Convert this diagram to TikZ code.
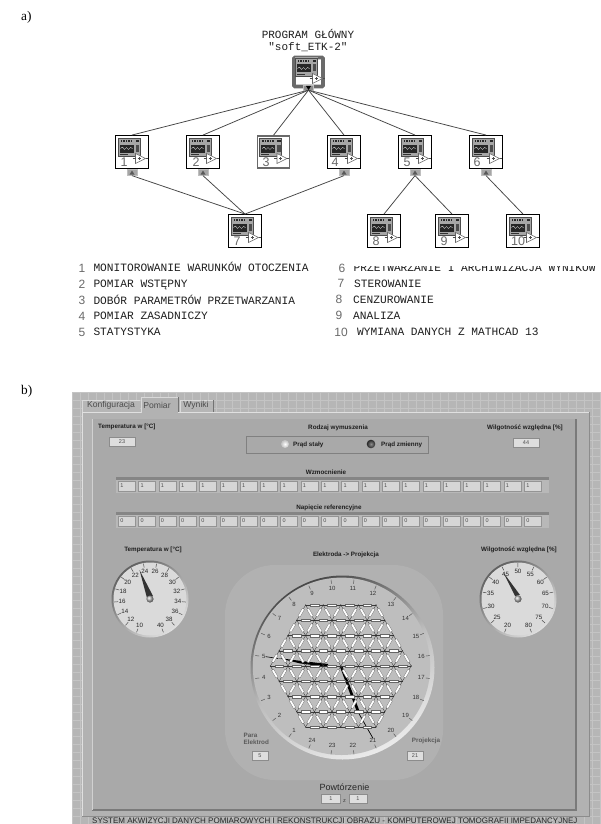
\documentclass[tikz,border=0pt]{standalone}
\usepackage{fontspec}
\setmainfont{Liberation Serif}
\setsansfont{Liberation Sans}
\setmonofont{Liberation Mono}
\usetikzlibrary{calc}
\definecolor{panelg}{HTML}{A9A9A9}
\definecolor{gridbg}{HTML}{B6B6B6}
\definecolor{gridln}{HTML}{C4C4C4}
\definecolor{bandg}{HTML}{B2B2B2}
\definecolor{backg}{HTML}{B1B1B1}
\definecolor{diskg}{HTML}{BEBEBE}
\definecolor{facel}{HTML}{DADADA}
\definecolor{wire}{HTML}{454545}
\definecolor{numg}{HTML}{6A6A6A}
\definecolor{txtk}{HTML}{1E1E1E}
\tikzset{
  iconbox/.style={draw=black,fill=white,line width=0.9,minimum size=33,inner sep=0},
  iconsub/.style={draw=numg,line width=1.5,fill=white,minimum size=32,inner sep=0},
  iconmain/.style={draw=numg,line width=3.6,fill=white,minimum size=29,inner sep=0,rounded corners=1},
  tabbox/.style={fill=black!35,draw=black!25,line width=0.3,minimum width=10,minimum height=6,inner sep=0},
  wireln/.style={draw=wire,line width=0.75},
  mono/.style={font=\ttfamily\fontsize{11.2}{12}\selectfont,text=txtk,inner sep=0,anchor=base west},
  listnum/.style={font=\sffamily\fontsize{12}{12}\selectfont,text=numg,inner sep=0,anchor=base},
  lvb/.style={font=\sffamily\bfseries\fontsize{6.3}{7}\selectfont,text=txtk,inner sep=0},
  lvs/.style={font=\sffamily\fontsize{5.6}{7}\selectfont,text=black!75,inner sep=0},
  valbox/.style={fill=black!13,draw=black!45,line width=0.5,inner sep=0,font=\sffamily\fontsize{5.5}{6}\selectfont,text=black!70},
  cellbox/.style={fill=black!16,draw=black!42,line width=0.35,inner sep=0},
  tabtxt/.style={font=\sffamily\fontsize{8.6}{10}\selectfont,text=black!70,inner sep=0},
  gnum/.style={font=\sffamily\fontsize{6.2}{7}\selectfont,text=black!85,inner sep=0},
  dnum/.style={font=\sffamily\fontsize{6}{7}\selectfont,text=black!80,inner sep=0},
}
% pictogram inside an icon: #1 #2 = top-left corner
\newcommand{\vipict}[2]{%
  \begin{scope}[shift={(#1,#2)}]
    \fill[black!35] (2,2) rectangle (25,21);
    \draw[black!70,line width=0.5] (2.5,2.5) rectangle (24.5,20.5);
    \fill[black!85] (4,9) rectangle (18,17);
    \draw[white,line width=0.3] (5,13) -- (7,11.5) -- (9,14) -- (11,12) -- (13,14) -- (15,12) -- (17,13);
    \foreach \d in {5,7.5,10,12.5,15}{\fill[black!85] (\d,4.5) rectangle +(1.5,1.8);}
    \fill[black!85] (20,4.5) rectangle (23.5,6.5);
    \fill[black!70] (20,9) rectangle (23.5,16);
    \draw[black!80,line width=0.4] (4,19) -- (12,19);
    \draw[black!60,line width=0.6,fill=white] (20,18) -- (30,23) -- (20,28) -- cycle;
    \draw[black!70,line width=0.5] (17,23) -- (20,23) (30,23) -- (32,23);
    \draw[black!70,line width=0.4] (22,23) -- (25,23) (23.5,21.5) -- (23.5,24.5);
  \end{scope}}
\newcommand{\vigauge}[1]{\begin{scope}[shift={(#1)}]
  \shade[top color=black!62,bottom color=black!12,shading angle=40] (0,0) circle (38.5);
  \fill[facel] (0,0) circle (36.5);
\end{scope}}
\begin{document}
\begin{tikzpicture}[x=1pt,y=-1pt]
\useasboundingbox (0,0) rectangle (601,824);
\clip (0,0) rectangle (601,824);
\fill[white] (0,0) rectangle (601,824);
\node[font=\fontsize{13.3}{14}\selectfont,anchor=base west,inner sep=0] (la) at (21,21) {a)};
\node[font=\fontsize{13.3}{14}\selectfont,anchor=base west,inner sep=0] (lb) at (21,394) {b)};
% part a
\node[font=\ttfamily\fontsize{11}{11.5}\selectfont,text=txtk,align=center,inner sep=0] (title) at (308,40.5) {PROGRAM GŁÓWNY\\"soft\_ETK-2"};
\node[iconmain] (m) at (308.5,72) {};
\node[tabbox,minimum height=5,fill=black!45] (mt) at (308.5,87.5) {};
\fill[black] (306,86) -- (311,86) -- (308.5,90) -- cycle;
\foreach \n/\x/\y in {i1/132/152,i2/203/152,i4/344/152,i5/415/152,i6/486/152,i7/245/231,i8/384/231,i9/452/231,i10/523/231}{
  \node[iconbox] (\n) at (\x,\y) {};
  \vipict{\x-16.5}{\y-16.5}
}
\node[iconsub] (i3) at (273.5,152) {};
\vipict{257}{135.5}
\vipict{292.5}{55.5}
\foreach \n/\x/\y/\t in {n1/124/162/1,n2/196/162/2,n3/266/162/3,n4/335/162/4,n5/407/162/5,n6/477/162/6,n7/237/241/7,n8/376/241/8,n9/444/241/9,n10/518/241/10}{
  \node[font=\sffamily\fontsize{12.5}{12}\selectfont,text=numg,inner sep=0] (\n) at (\x,\y) {\t};
}
\foreach \n/\x in {t1/132,t2/203,t4/344,t5/415,t6/486}{
  \node[tabbox] (\n) at (\x,172.5) {};
  \fill[black!65] (\x-2.5,174.5) -- (\x,170.5) -- (\x+2.5,174.5) -- cycle;
}
\foreach \c in {i1,i2,i3,i4,i5,i6}{ \draw[wireln] (mt.south) -- (\c.north); }
\foreach \c in {t1,t2,t4}{ \draw[wireln] (\c.south) -- (i7.north); }
\draw[wireln] (t5.south) -- (i8.north);
\draw[wireln] (t5.south) -- (i9.north);
\draw[wireln] (t6.south) -- (i10.north);
% list
\foreach \n/\x/\y/\t in {a1/82/272/1,a2/82/288/2,a3/82/304/3,a4/82/320/4,a5/82/336/5,a6/342/272/6,a7/341/287/7,a8/339/303/8,a9/339/319/9,a10/341/336/10}{
  \node[listnum] (\n) at (\x,\y) {\t};
}
\node[mono] (b1) at (93.3,271.5) {MONITOROWANIE WARUNKÓW OTOCZENIA};
\node[mono] (b2) at (93.3,287.5) {POMIAR WSTĘPNY};
\node[mono] (b3) at (93.3,304) {DOBÓR PARAMETRÓW PRZETWARZANIA};
\node[mono] (b4) at (93.3,319.5) {POMIAR ZASADNICZY};
\node[mono] (b5) at (93.3,335.5) {STATYSTYKA};
\node[mono] (b6) at (353.5,271.5) {PRZETWARZANIE I ARCHIWIZACJA WYNIKÓW};
\fill[white] (350,258) rectangle (601,265.5);
\node[mono] (b7) at (354,287) {STEROWANIE};
\node[mono] (b8) at (353,303) {CENZUROWANIE};
\node[mono] (b9) at (353,319) {ANALIZA};
\node[mono] (b10) at (357,335.5) {WYMIANA DANYCH Z MATHCAD 13};
% part b : panel
\fill[gridbg] (72,392) rectangle (601,824);
\begin{scope}
\clip (72,392) rectangle (601,824);
\foreach \x in {72,80,...,600}{\draw[gridln,line width=0.4] (\x,392) -- (\x,824);}
\foreach \y in {392,400,...,824}{\draw[gridln,line width=0.4] (72,\y) -- (601,\y);}
\end{scope}
% tab sheet
\fill[bandg] (82,412) rectangle (589,816);
\draw[black!12,line width=0.8] (82,816) -- (82,412) -- (589,412);
\draw[black!45,line width=0.8] (589.5,412) -- (589.5,816) -- (82,816);
\fill[panelg] (92,419) rectangle (576,810);
\draw[black!52,line width=1.2] (92,810) -- (576,810) -- (576,419);
\draw[black!18,line width=0.6] (92,810) -- (92,419);
% tabs
\fill[bandg] (141,397) -- (178,397) -- (178,413) -- (141,413) -- cycle;
\fill[gridbg] (82,400) rectangle (140,411.5);
\fill[gridbg] (179,400) rectangle (213,411.5);
\draw[black!15,line width=0.6] (82,412) -- (82,400) -- (140,400);
\draw[black!15,line width=0.6] (141,413) -- (141,397) -- (178,397);
\draw[black!55,line width=0.8] (178,397) -- (178,412);
\draw[black!15,line width=0.6] (180,412) -- (180,400) -- (213,400);
\draw[black!55,line width=0.8] (213.5,400) -- (213.5,412);
\node[tabtxt] (k1) at (111,405) {Konfiguracja};
\node[tabtxt] (k2) at (157,405) {Pomiar};
\node[tabtxt] (k3) at (196,405) {Wyniki};
% top row
\node[lvb,anchor=west] (tt) at (98,427) {Temperatura w [°C]};
\node[valbox,minimum width=26,minimum height=9] (tv) at (122,441.5) {23};
\node[lvb] (rw) at (338,428) {Rodzaj wymuszenia};
\node[draw=black!50,fill=panelg,line width=0.8,minimum width=182,minimum height=17,inner sep=0] (rb) at (337,444.5) {};
\shade[inner color=white,outer color=black!25] (285,444) circle (4);
\shade[inner color=black!45,outer color=black!85] (371,444) circle (4.3);
\node[lvb,anchor=west] (r1) at (293,444.5) {Prąd stały};
\node[lvb,anchor=west] (r2) at (381,445) {Prąd zmienny};
\node[lvb,anchor=west] (wt) at (487,428) {Wilgotność względna  [\%]};
\node[valbox,minimum width=26,minimum height=9] (wv) at (526,443) {44};
% arrays
\node[lvb] (wz) at (326,472.5) {Wzmocnienie};
\node[lvb] (np) at (329,507.5) {Napięcie referencyjne};
\foreach \ya/\v/\nm in {477/1/w,512/0/u}{
  \fill[black!28] (116,\ya) rectangle (549,\ya+16);
  \fill[black!48] (116,\ya) rectangle (549,\ya+3);
  \foreach \i in {0,...,20}{
    \pgfmathsetmacro\cx{118+\i*20.3}
    \node[cellbox,minimum width=17,minimum height=9.5,anchor=north west] (\nm c\i) at (\cx,\ya+4) {};
    \node[valbox,draw=none,fill=none,anchor=west] (\nm v\i) at (\cx+2,\ya+8.8) {\v};
  }
}
% gauges
\vigauge{150,599}
\vigauge{518,599}
\node[lvb] (gt1) at (153,549.5) {Temperatura w [°C]};
\node[lvb] (gt2) at (519,549.5) {Wilgotność względna  [\%]};
\foreach \t [count=\i from 0] in {10,12,...,40}{
  \pgfmathsetmacro\a{248-\i*21.07}
  \draw[black!70,line width=0.5] ({150+32*cos(\a)},{599-32*sin(\a)}) -- ({150+36*cos(\a)},{599-36*sin(\a)});
  \node[gnum] (gl\i) at ({150+28*cos(\a)},{599-28*sin(\a)}) {\t};
}
\foreach \t [count=\i from 0] in {20,25,...,80}{
  \pgfmathsetmacro\a{248-\i*26.33}
  \draw[black!70,line width=0.5] ({518+32*cos(\a)},{599-32*sin(\a)}) -- ({518+36*cos(\a)},{599-36*sin(\a)});
  \node[gnum] (hl\i) at ({518+28*cos(\a)},{599-28*sin(\a)}) {\t};
}
\fill[black!80] (147,598) -- (139.5,570) -- (153,596) -- cycle;
\shade[ball color=black!30] (150,599) circle (3.6);
\fill[black!80] (515,596) -- (503,572) -- (520,595) -- cycle;
\shade[ball color=black!30] (518,599) circle (3.6);
% dial
\fill[backg,rounded corners=50] (225,565) rectangle (443,780);
\shade[top color=black!72,bottom color=black!8,middle color=diskg,shading angle=25] (342.5,667.5) circle (92);
\fill[diskg] (341.5,666.3) circle (88.7);
\foreach \n in {1,...,24}{
  \pgfmathsetmacro\a{82.5-(\n-11)*15}
  \draw[black!65,line width=0.5] ({342.5+84*cos(\a)},{667-84*sin(\a)}) -- ({342.5+88*cos(\a)},{667-88*sin(\a)});
  \node[dnum] (d\n) at ({342.5+79.5*cos(\a)},{667-79.5*sin(\a)}) {\n};
}
% drive and measure traces under the mesh bars
\draw[black,line width=0.6] (d5.east) -- (278,658.5);
\fill[black] (278,658) -- (300,660.8) -- (328,664) -- (328,667) -- (300,663.4) -- cycle;
\fill[black] (340,667) -- (342.5,666.5) -- (359.5,711) -- (357,712) -- cycle;
\draw[black,line width=0.7] (358,712) -- (d21.north);
% mesh
\foreach \q in {-4,...,4}{\foreach \r in {-4,...,4}{
  \pgfmathtruncatemacro\s{-\q-\r}
  \pgfmathtruncatemacro\ok{(abs(\s)<=4)?1:0}
  \ifnum\ok=1
    \pgfmathsetmacro\px{340.8+17.6*(\q+\r/2)}
    \pgfmathsetmacro\py{666+15.25*\r}
    \foreach \dq/\dr/\ang in {1/0/0,0/1/-60,-1/1/-120}{
      \pgfmathtruncatemacro\qq{\q+\dq}
      \pgfmathtruncatemacro\rr{\r+\dr}
      \pgfmathtruncatemacro\ss{-\qq-\rr}
      \pgfmathtruncatemacro\oo{(abs(\qq)<=4 && abs(\rr)<=4 && abs(\ss)<=4)?1:0}
      \ifnum\oo=1
        \pgfmathsetmacro\ex{\px+17.6*(\dq+\dr/2)}
        \pgfmathsetmacro\ey{\py+15.25*\dr}
        \draw[black!78,line width=0.35] (\px,\py) -- (\ex,\ey);
        \pgfmathsetmacro\mx{(\px+\ex)/2}
        \pgfmathsetmacro\my{(\py+\ey)/2}
        \filldraw[fill=white,draw=black!60,line width=0.25,rotate around={\ang:(\mx,\my)}] (\mx-4.4,\my-1.2) rectangle (\mx+4.4,\my+1.2);
      \fi
    }
    \fill[black!85] (\px,\py) circle (0.6);
  \fi
}}
% dial labels
\node[lvb] (ee) at (346,555) {Elektroda -> Projekcja};
\node[lvb,text=black!65,anchor=west,align=left] (pe) at (243.5,738.5) {Para\\Elektrod};
\node[valbox,minimum width=16,minimum height=9] (pv) at (260,755.5) {5};
\node[lvb,text=black!65] (pj) at (426,741) {Projekcja};
\node[valbox,minimum width=16,minimum height=9] (jv) at (415,755.5) {21};
\node[font=\sffamily\fontsize{9}{10}\selectfont,text=black!85,inner sep=0] (pw) at (344.5,787) {Powtórzenie};
\node[valbox,minimum width=19,minimum height=9] (pa) at (331,798.5) {1};
\node[lvs] (pz) at (344.5,801) {z};
\node[valbox,minimum width=18,minimum height=9] (pb) at (358,798.5) {1};
\node[font=\sffamily\fontsize{8}{9}\selectfont,text=black!85,inner sep=0,anchor=base west] (st) at (92,823.3) {SYSTEM AKWIZYCJI DANYCH POMIAROWYCH I REKONSTRUKCJI OBRAZU - KOMPUTEROWEJ TOMOGRAFII IMPEDANCYJNEJ};
\end{tikzpicture}
\end{document}
